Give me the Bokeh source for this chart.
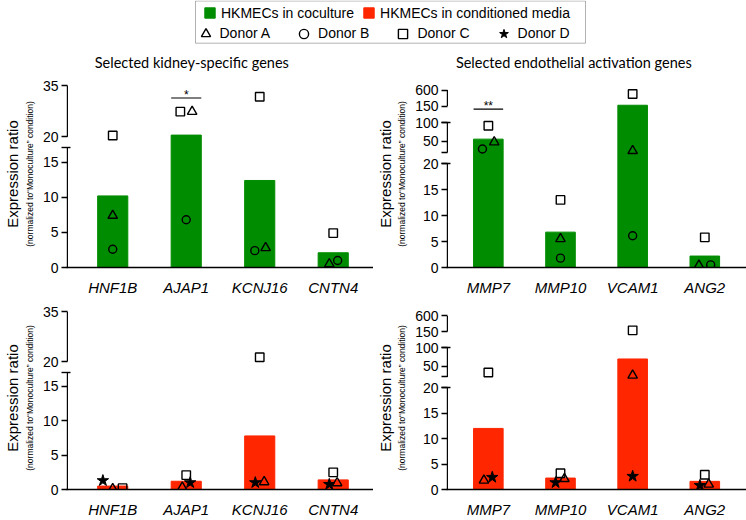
from bokeh.plotting import figure
from bokeh.models import (ColumnDataSource, CustomJSTransform, FixedTicker, Title,
                          Legend, LegendItem, BoxAnnotation, Range1d, Label)
from bokeh.transform import transform
from bokeh.core.properties import value
from bokeh.layouts import column, row
from bokeh.embed import file_html
from bokeh.resources import INLINE

# ---------------- data (expression ratio, normalized to monoculture) ----------------
kidney_genes = ["HNF1B", "AJAP1", "KCNJ16", "CNTN4"]
endothelial_genes = ["MMP7", "MMP10", "VCAM1", "ANG2"]

# HKMECs in coculture
cocult_kidney_mean = [10.2, 20.5, 12.4, 2.1]
cocult_kidney_donorA = [7.4, 27.4, 2.8, 0.5]
cocult_kidney_donorB = [2.6, 6.8, 2.4, 1.0]
cocult_kidney_donorC = [20.4, 27.4, 31.8, 4.9]

cocult_endo_mean = [56.0, 6.8, 174.0, 2.2]
cocult_endo_donorA = [48.0, 5.5, 24.6, 0.4]
cocult_endo_donorB = [29.4, 1.8, 6.1, 0.5]
cocult_endo_donorC = [92.0, 13.0, 490.0, 5.8]

# HKMECs in conditioned media
condmed_kidney_mean = [0.5, 1.2, 7.8, 1.4]
condmed_kidney_donorA = [0.1, 0.3, 1.1, 0.95]
condmed_kidney_donorC = [0.2, 2.1, 21.3, 2.5]
condmed_kidney_donorD = [1.3, 1.0, 1.0, 0.75]

condmed_endo_mean = [12.0, 2.25, 69.5, 1.6]
condmed_endo_donorA = [1.8, 2.1, 24.3, 1.0]
condmed_endo_donorC = [32.4, 3.2, 185.0, 2.9]
condmed_endo_donorD = [2.4, 1.35, 2.6, 0.8]

# significance annotations: gene index, label, height (ratio units)
kidney_sig_gene = [1]
kidney_sig_label = ["*"]
kidney_sig_level = [31.4]
endo_sig_gene = [0]
endo_sig_label = ["**"]
endo_sig_level = [141.0]

panel_titles = ["Selected kidney-specific genes", "Selected endothelial activation genes"]

# broken y-axis definitions: (value_from, value_to, px_from, px_to) per segment
KIDNEY_AXIS = dict(segments=[(0, 17.1, 0, 120), (20, 35, 130.7, 181.7)],
                   ticks=[[0, 5, 10, 15], [20, 35]])
ENDO_AXIS = dict(segments=[(0, 20, 0, 104), (20, 100, 115, 144.7), (150, 600, 161.4, 177.4)],
                 ticks=[[0, 5, 10, 15, 20], [50, 100], [150, 600]])

# ---------------- style / layout ----------------
GREEN = "#008C00"
RED = "#FF2600"
NUM_FONT = "Liberation Sans"
TITLE_FONT = "Lato"
NOTE = "(normalized to\u201cMonoculture\u201d condition)"
FRAME_H = 187
BAR_W = 0.41

MARKERS = {"A": ("triangle", 9.5), "B": ("circle", 8), "C": ("square", 8.5), "D": ("star", 12)}

# horizontal dodge of each donor symbol (pixels)
DODGE = {
    "tl": {"A": [0, 6, 6, -4], "B": [0, 0, -5, 4.5], "C": [0, -6, 0, 0]},
    "tr": {"A": [6, 0, 0, -6], "B": [-6, 0, 0, 6], "C": [0, 0, 0, 0]},
    "bl": {"A": [0, -4, 4.5, 4], "C": [10, 0, 0, 0], "D": [-10, 4, -4.5, -4]},
    "br": {"A": [-4.5, 4, 0, 4], "C": [0, 0, 0, 0], "D": [4, -5, 0, -5]},
}

# (x_start, x_end, px_per_category, left_border)
GEOM_LEFT = (-0.629, 3.548, 74.7, 61)
GEOM_RIGHT = (-0.58, 3.578, 73.6, 67)
FIG_W = 373

SEG_FN = """
function f(x) {
  const n = v0.length;
  for (let i = 0; i < n; i++) {
    if (x <= v1[i] || i == n - 1) {
      if (i == 0 || x >= v0[i])
        return p0[i] + (x - v0[i]) * (p1[i] - p0[i]) / (v1[i] - v0[i]);
      return p1[i-1] + (x - v1[i-1]) * (p0[i] - p1[i-1]) / (v0[i] - v1[i-1]);
    }
  }
  return x;
}
"""


def seg_pos(v, segs, k):
    v0, v1, p0, p1 = segs[k]
    return p0 + (v - v0) * (p1 - p0) / (v1 - v0)


def make_panel(key, genes, mean, donors, color, axis_spec, geom, height,
               top_border, bottom_border, sig=None):
    segs = axis_spec["segments"]
    tr = CustomJSTransform(
        args=dict(v0=[s[0] for s in segs], v1=[s[1] for s in segs],
                  p0=[s[2] for s in segs], p1=[s[3] for s in segs]),
        func=SEG_FN + "return f(x);",
        v_func=SEG_FN + "return Array.from(xs, (x) => f(x));")
    start, end, ppu, left_border = geom
    p = figure(width=FIG_W, height=height, x_range=Range1d(start, end),
               y_range=Range1d(0, FRAME_H), output_backend="svg", toolbar_location=None,
               min_border_left=left_border, min_border_right=0,
               min_border_top=top_border, min_border_bottom=bottom_border)
    p.xgrid.visible = False
    p.ygrid.visible = False
    p.outline_line_color = None
    p.background_fill_color = "white"

    # y axis (broken)
    ticks, labels, minor = [], {}, []
    for k, (v0, v1, p0, p1) in enumerate(segs):
        for t in axis_spec["ticks"][k]:
            pos = round(seg_pos(t, segs, k), 2)
            ticks.append(pos)
            labels[pos] = str(t)
        if k > 0 and v0 not in axis_spec["ticks"][k]:
            pos = round(p0, 2)
            ticks.append(pos)
            labels[pos] = ""
        if k < len(segs) - 1:
            minor.append(round(p1, 2))
    ya = p.yaxis[0]
    ya.ticker = FixedTicker(ticks=ticks, minor_ticks=minor)
    ya.major_label_overrides = labels
    ya.axis_line_color = None
    ya.major_tick_out = 5
    ya.major_tick_in = 1
    ya.minor_tick_out = 5
    ya.minor_tick_in = 4
    ya.major_tick_line_width = 1.4
    ya.minor_tick_line_width = 1.4
    ya.major_label_text_font = NUM_FONT
    ya.major_label_text_font_size = "14px"
    ya.major_label_text_color = "black"
    ya.major_label_standoff = 3
    ya.axis_label = NOTE
    ya.axis_label_text_font = NUM_FONT
    ya.axis_label_text_font_size = "8.5px"
    ya.axis_label_text_font_style = "normal"
    ya.axis_label_text_color = "black"
    ya.axis_label_standoff = 5
    p.add_layout(Title(text="Expression ratio", align="center", text_font=NUM_FONT,
                       text_font_size="15px", text_font_style="normal",
                       text_color="black", standoff=2), "left")

    # spine segments
    sx = start + 0.8 / ppu
    p.segment(x0=[sx] * len(segs), x1=[sx] * len(segs),
              y0=[s[2] for s in segs], y1=[s[3] for s in segs],
              line_color="black", line_width=1.4)

    # x axis
    xa = p.xaxis[0]
    xa.ticker = FixedTicker(ticks=list(range(len(genes))), minor_ticks=[])
    xa.major_label_overrides = {i: g for i, g in enumerate(genes)}
    xa.major_tick_line_color = None
    xa.minor_tick_line_color = None
    xa.axis_line_width = 1.4
    xa.axis_line_color = "black"
    xa.major_label_text_font = NUM_FONT
    xa.major_label_text_font_style = "italic"
    xa.major_label_text_font_size = "15px"
    xa.major_label_text_color = "black"
    xa.major_label_standoff = 5

    # bars
    bsrc = ColumnDataSource(dict(x=list(range(len(genes))), v=mean))
    p.vbar(x="x", top=transform("v", tr), bottom=0, width=BAR_W, source=bsrc,
           fill_color=color, line_color=color, line_width=1)

    # donor symbols
    for name, vals in donors:
        off = DODGE[key][name]
        src = ColumnDataSource(dict(x=[i + o / ppu for i, o in enumerate(off)], v=vals))
        mk, sz = MARKERS[name]
        if name == "D":
            p.scatter(x="x", y=transform("v", tr), marker=mk, size=sz, source=src,
                      fill_color="black", line_color="black", line_width=1)
        else:
            p.scatter(x="x", y=transform("v", tr), marker=mk, size=sz, source=src,
                      fill_color=None, line_color="black", line_width=1.4)

    # significance
    if sig:
        gi, lab, lvl = sig
        ssrc = ColumnDataSource(dict(x0=[g - BAR_W / 2 for g in gi],
                                     x1=[g + BAR_W / 2 for g in gi],
                                     xc=gi, v=lvl, t=lab))
        p.segment(x0="x0", x1="x1", y0=transform("v", tr), y1=transform("v", tr),
                  source=ssrc, line_color="black", line_width=1.1)
        p.text(x="xc", y=transform("v", tr), text="t", source=ssrc,
               text_align="center", text_baseline="alphabetic", y_offset=-3,
               text_font=value(NUM_FONT), text_font_size="12px", text_color="black")
    return p


tl = make_panel("tl", kidney_genes, cocult_kidney_mean,
                [("A", cocult_kidney_donorA), ("B", cocult_kidney_donorB), ("C", cocult_kidney_donorC)],
                GREEN, KIDNEY_AXIS, GEOM_LEFT, 228, 8, 33,
                sig=(kidney_sig_gene, kidney_sig_label, kidney_sig_level))
tr_ = make_panel("tr", endothelial_genes, cocult_endo_mean,
                 [("A", cocult_endo_donorA), ("B", cocult_endo_donorB), ("C", cocult_endo_donorC)],
                 GREEN, ENDO_AXIS, GEOM_RIGHT, 228, 8, 33,
                 sig=(endo_sig_gene, endo_sig_label, endo_sig_level))
bl = make_panel("bl", kidney_genes, condmed_kidney_mean,
                [("A", condmed_kidney_donorA), ("C", condmed_kidney_donorC), ("D", condmed_kidney_donorD)],
                RED, KIDNEY_AXIS, GEOM_LEFT, 220, 6, 27)
br = make_panel("br", endothelial_genes, condmed_endo_mean,
                [("A", condmed_endo_donorA), ("C", condmed_endo_donorC), ("D", condmed_endo_donorD)],
                RED, ENDO_AXIS, GEOM_RIGHT, 220, 6, 27)

# ---------------- header strip: legend + panel titles ----------------
HEAD_H = 72
lf = figure(width=2 * FIG_W, height=HEAD_H, x_range=Range1d(0, 2 * FIG_W), y_range=Range1d(0, HEAD_H),
            x_axis_location=None, y_axis_location=None, output_backend="svg",
            toolbar_location=None, min_border_left=0, min_border_right=0,
            min_border_top=0, min_border_bottom=0)
lf.xgrid.visible = False
lf.ygrid.visible = False
lf.outline_line_color = None

# legend proxies kept outside the visible range
r_co = lf.vbar(x=[-100], top=[-100], width=1, fill_color=GREEN, line_color=GREEN)
r_cm = lf.vbar(x=[-100], top=[-100], width=1, fill_color=RED, line_color=RED)
donor_r = {}
for name in ["A", "B", "C", "D"]:
    mk, sz = MARKERS[name]
    if name == "D":
        donor_r[name] = lf.scatter(x=[-100], y=[-100], marker=mk, size=sz, fill_color="black",
                                   line_color="black", line_width=1)
    else:
        donor_r[name] = lf.scatter(x=[-100], y=[-100], marker=mk, size=sz, fill_color=None,
                                   line_color="black", line_width=1.4)

common = dict(orientation="horizontal", border_line_color=None, background_fill_alpha=0,
              padding=0, margin=0, label_height=13,
              label_text_font=NUM_FONT, label_text_font_size="14px", label_text_color="black")
leg1 = Legend(items=[LegendItem(label="HKMECs in coculture", renderers=[r_co]),
                     LegendItem(label="HKMECs in conditioned media", renderers=[r_cm])],
              location=(203, 51.5), spacing=8, label_standoff=5,
              glyph_width=13, glyph_height=13, **common)
leg2 = Legend(items=[LegendItem(label="Donor " + n, renderers=[donor_r[n]]) for n in "ABCD"],
              location=(193.5, 27.2), spacing=22, label_standoff=3,
              glyph_width=23, glyph_height=23, **common)
lf.add_layout(leg1)
lf.add_layout(leg2)
lf.add_layout(BoxAnnotation(left=195, right=585, bottom=29.3, top=71.5, fill_color=None,
                            line_color="black", line_width=1))

for tx, cx in zip(panel_titles, [191.3, 573.3]):
    lf.add_layout(Label(x=cx, y=10.3, text=tx, text_align="center", text_baseline="middle",
                        text_font=TITLE_FONT, text_font_size="14.5px", text_color="black"))

layout = column(lf, row(tl, tr_), row(bl, br))

open("out.html", "w").write(file_html(layout, INLINE))
